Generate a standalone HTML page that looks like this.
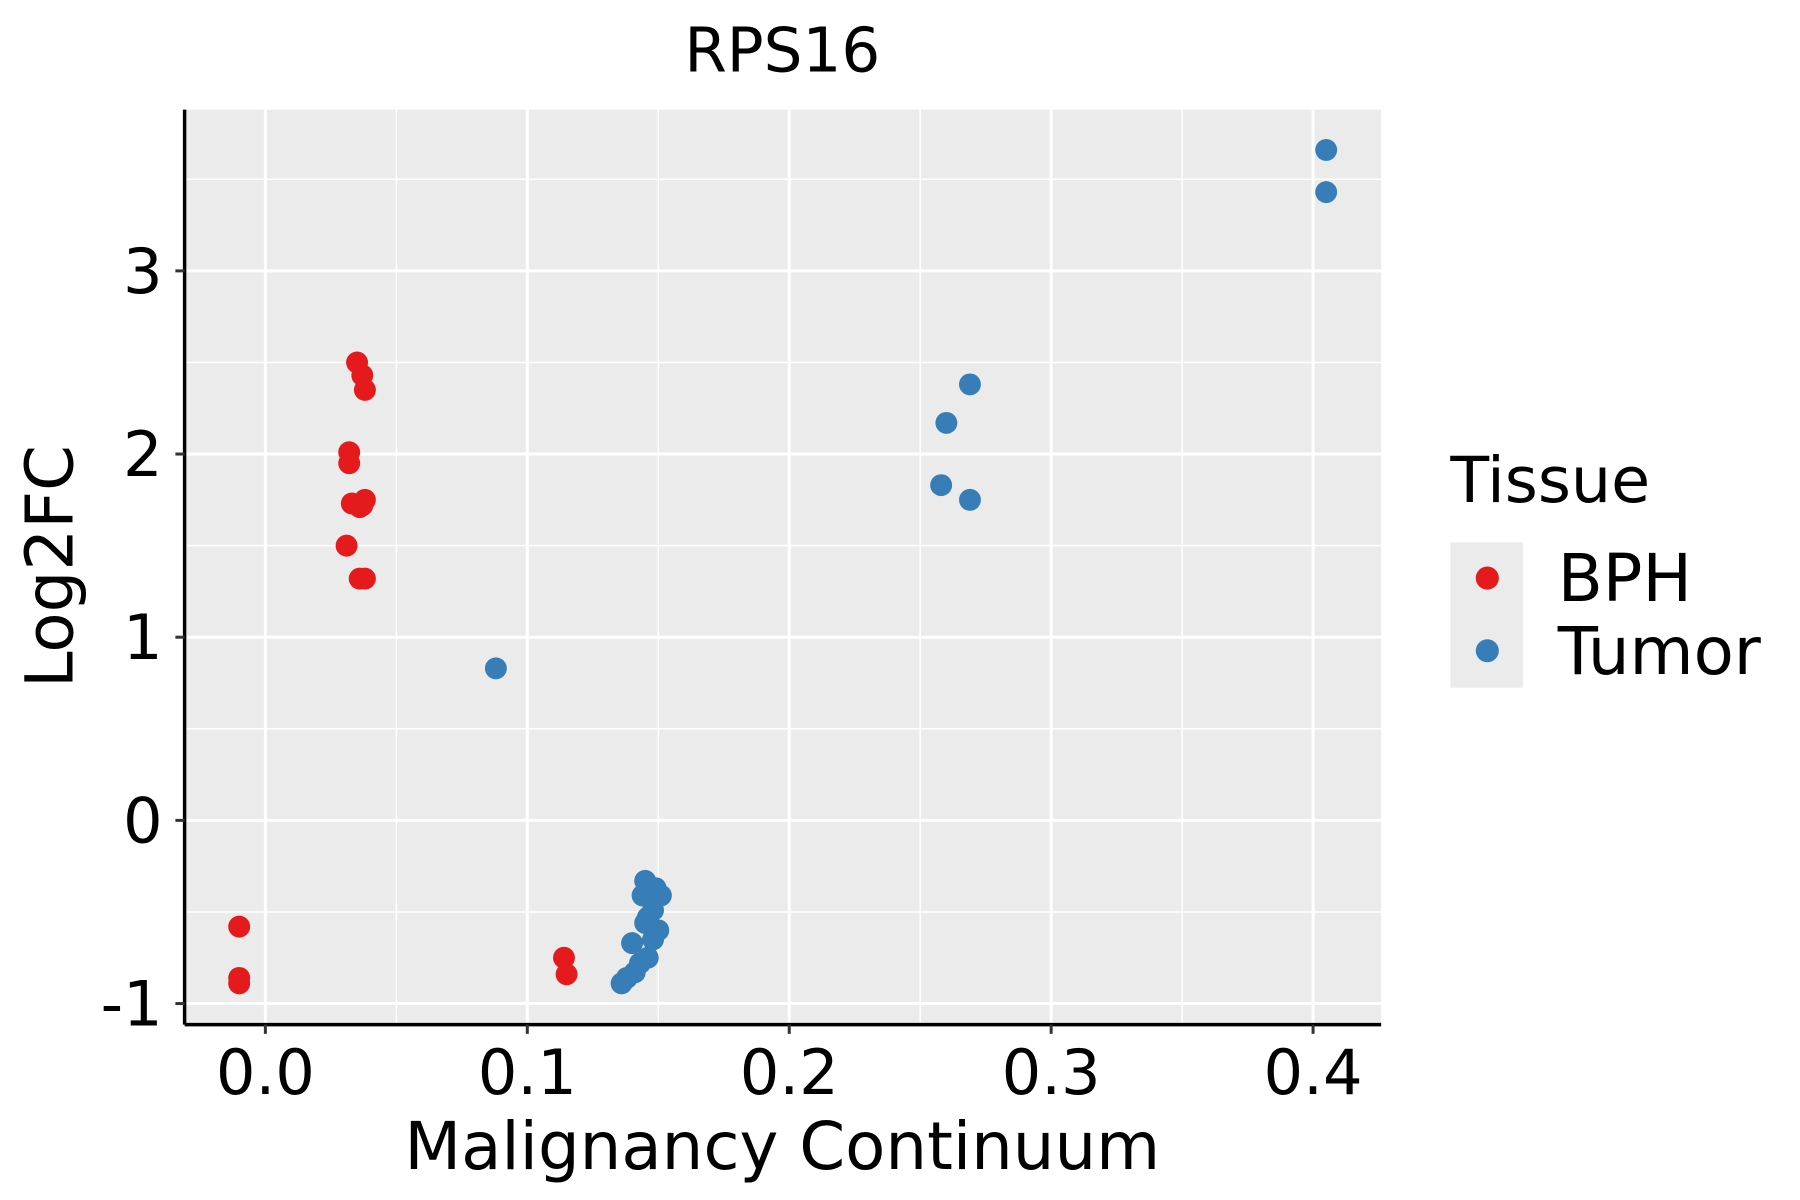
<!DOCTYPE html>
<html><head><meta charset="utf-8"><style>html,body{margin:0;padding:0;background:#fff}svg{display:block}text{font-family:"DejaVu Sans","Liberation Sans",sans-serif}</style></head>
<body>
<svg id="chart" width="1800" height="1200" viewBox="0 0 1560 1040" xmlns="http://www.w3.org/2000/svg">
<rect width="1560" height="1040" fill="#fff"/>
<text x="678" y="62" font-size="53" text-anchor="middle">RPS16</text>
<rect x="160" y="95" width="1037" height="793" fill="#ebebeb"/>
<g id="grid"></g>
<g id="points"></g>
<line x1="160" y1="95" x2="160" y2="888" stroke="#000" stroke-width="3"/>
<line x1="160" y1="888" x2="1197" y2="888" stroke="#000" stroke-width="3"/>
<g id="ticks"></g>
<text x="678" y="1013" font-size="57" text-anchor="middle">Malignancy Continuum</text>
<text transform="translate(63,491) rotate(-90)" font-size="57" text-anchor="middle">Log2FC</text>
<g>
<text x="1257" y="435" font-size="55">Tissue</text>
<rect x="1257" y="470" width="63" height="126" fill="#ebebeb"/>
<circle cx="1289" cy="501" r="10" fill="#E41A1C"/>
<circle cx="1289" cy="564" r="10" fill="#377EB8"/>
<text x="1350" y="521" font-size="57">BPH</text>
<text x="1350" y="584" font-size="57">Tumor</text>
</g>
</svg>
<script>
const xTicks=[0.0,0.1,0.2,0.3,0.4];
const xTickLabels=["0.0","0.1","0.2","0.3","0.4"];
const yTicks=[-1,0,1,2,3];
const yTickLabels=["-1","0","1","2","3"];
const bphX=[-0.01,-0.01,-0.01,0.035,0.037,0.038,0.032,0.032,0.033,0.036,0.038,0.037,0.031,0.036,0.038,0.114,0.115];
const bphY=[-0.58,-0.86,-0.89,2.5,2.43,2.35,2.01,1.95,1.73,1.71,1.75,1.72,1.5,1.32,1.32,-0.75,-0.84];
const tumorX=[0.405,0.405,0.269,0.26,0.258,0.269,0.088,0.145,0.149,0.151,0.144,0.148,0.146,0.145,0.15,0.148,0.14,0.146,0.143,0.141,0.138,0.136];
const tumorY=[3.66,3.43,2.38,2.17,1.83,1.75,0.83,-0.33,-0.37,-0.41,-0.41,-0.49,-0.53,-0.56,-0.6,-0.65,-0.67,-0.75,-0.78,-0.83,-0.86,-0.89];
const NS="http://www.w3.org/2000/svg";
function sx(v){return 230+v*2270;}
function sy(v){return 711-v*158.75;}
function mk(tag,attrs,parent){const e=document.createElementNS(NS,tag);for(const k in attrs)e.setAttribute(k,attrs[k]);parent.appendChild(e);return e;}
const grid=document.getElementById('grid'),ticks=document.getElementById('ticks'),pts=document.getElementById('points');
for(let i=0;i<xTicks.length;i++){
  const x=sx(xTicks[i]);
  const g=mk('line',{x1:x,y1:95,x2:x,y2:888,stroke:'#fff','stroke-width':2.6},grid);
  
  
  const m=sx(xTicks[i]+0.05);
  if(m<1197){mk('line',{x1:m,y1:95,x2:m,y2:888,stroke:'#fff','stroke-width':1.3},grid);}
  mk('line',{x1:x,y1:888,x2:x,y2:896,stroke:'#333','stroke-width':2.6},ticks);
  const t=mk('text',{x:x,y:948,'font-size':54,'text-anchor':'middle'},ticks);
  t.textContent=xTickLabels[i];
  
  
}
for(let i=0;i<yTicks.length;i++){
  const y=sy(yTicks[i]);
  const g=mk('line',{x1:160,y1:y,x2:1197,y2:y,stroke:'#fff','stroke-width':2.6},grid);
  
  
  const m=sy(yTicks[i]+0.5);
  if(m>95){mk('line',{x1:160,y1:m,x2:1197,y2:m,stroke:'#fff','stroke-width':1.3},grid);}
  mk('line',{x1:152,y1:y,x2:160,y2:y,stroke:'#333','stroke-width':2.6},ticks);
  const t=mk('text',{x:141,y:y+19,'font-size':54,'text-anchor':'end'},ticks);
  t.textContent=yTickLabels[i];
  
  
}
for(let i=0;i<bphX.length;i++){
  const c=mk('circle',{cx:sx(bphX[i]),cy:sy(bphY[i]),r:9.5,fill:'#E41A1C'},pts);
  
  
}
for(let i=0;i<tumorX.length;i++){
  const c=mk('circle',{cx:sx(tumorX[i]),cy:sy(tumorY[i]),r:9.5,fill:'#377EB8'},pts);
  
  
}
</script>
</body></html>
